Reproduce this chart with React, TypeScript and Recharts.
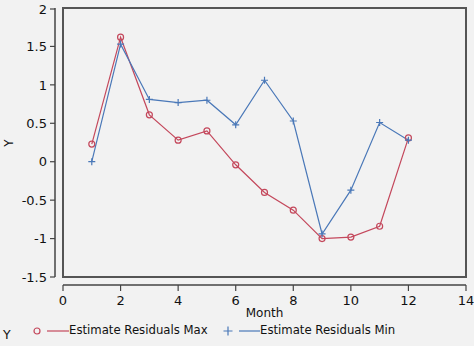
import { LineChart, Line, XAxis, YAxis, ReferenceArea, ReferenceLine } from 'recharts';

const months = [1, 2, 3, 4, 5, 6, 7, 8, 9, 10, 11, 12];
const residualsMax = [0.23, 1.62, 0.61, 0.28, 0.4, -0.04, -0.4, -0.63, -1.0, -0.98, -0.84, 0.31];
const residualsMin = [0.0, 1.53, 0.81, 0.77, 0.8, 0.48, 1.06, 0.53, -0.94, -0.37, 0.51, 0.28];
const xTicks = [0, 2, 4, 6, 8, 10, 12, 14];
const yTicks = [-1.5, -1, -0.5, 0, 0.5, 1, 1.5, 2];

const RED = '#c4485c';
const BLUE = '#4a78b8';
const BG = '#f2f2f2';
const AXIS = '#444';
const FONT = '"DejaVu Sans", sans-serif';
const GAP = 8; // axes sit detached from the frame

const data = months.map((m, i) => ({ month: m, max: residualsMax[i], min: residualsMin[i] }));

const CircleDot = (props: any) => {
  const { cx, cy } = props;
  if (cx == null || cy == null) return null;
  return <circle cx={cx} cy={cy} r={3} fill="none" stroke={RED} strokeWidth={1.2} />;
};

const PlusDot = (props: any) => {
  const { cx, cy } = props;
  if (cx == null || cy == null) return null;
  return (
    <path d={`M${cx - 3.5},${cy}H${cx + 3.5}M${cx},${cy - 3.5}V${cy + 3.5}`} stroke={BLUE} strokeWidth={1.2} />
  );
};

const XTick = (props: any) => {
  const { x, y, payload } = props;
  return (
    <g>
      <line x1={x} x2={x} y1={y + GAP} y2={y + GAP + 6} stroke={AXIS} strokeWidth={1.2} />
      <text x={x} y={y + GAP + 20} textAnchor="middle" fontSize={13} fill="#111" fontFamily={FONT}>
        {payload.value}
      </text>
    </g>
  );
};

const YTick = (props: any) => {
  const { x, y, payload } = props;
  return (
    <g>
      <line x1={x - GAP - 5} x2={x - GAP} y1={y} y2={y} stroke={AXIS} strokeWidth={1.2} />
      <text x={x - GAP - 8} y={y} dy="0.36em" textAnchor="end" fontSize={13} fill="#111" fontFamily={FONT}>
        {payload.value}
      </text>
    </g>
  );
};

export default function App() {
  return (
    <div style={{ position: 'absolute', left: 0, top: 0, width: 474, height: 346, background: BG, fontFamily: FONT }}>
      <LineChart width={474} height={346} data={data} margin={{ top: 8, right: 8, bottom: 29, left: 0 }}>
        <XAxis
          dataKey="month"
          type="number"
          domain={[0, 14]}
          ticks={xTicks}
          height={40}
          tickSize={0}
          tickMargin={0}
          axisLine={false}
          tickLine={false}
          tick={<XTick />}
          label={{ value: 'Month', position: 'insideBottom', offset: 0, fill: '#111', fontSize: 12, fontFamily: FONT }}
        />
        <YAxis
          type="number"
          domain={[-1.5, 2]}
          ticks={yTicks}
          width={63}
          tickSize={0}
          tickMargin={0}
          axisLine={false}
          tickLine={false}
          tick={<YTick />}
          label={{
            content: () => (
              <text x={13} y={143} transform="rotate(-90 13 143)" textAnchor="middle" fontSize={12} fill="#111" fontFamily={FONT}>
                Y
              </text>
            ),
          }}
        />
        <ReferenceArea x1={0} x2={14} y1={-1.5} y2={2} fill={BG} fillOpacity={1} stroke="#555" strokeWidth={2} ifOverflow="visible" />
        <ReferenceLine
          y={-1.5}
          ifOverflow="visible"
          shape={(p: any) => <line x1={p.x1} x2={p.x2} y1={p.y1 + GAP} y2={p.y2 + GAP} stroke={AXIS} strokeWidth={1.5} />}
        />
        <ReferenceLine
          x={0}
          ifOverflow="visible"
          shape={(p: any) => <line x1={p.x1 - GAP} x2={p.x2 - GAP} y1={p.y1} y2={p.y2} stroke={AXIS} strokeWidth={1.5} />}
        />
        <Line dataKey="max" stroke={RED} strokeWidth={1.2} dot={<CircleDot />} activeDot={false} isAnimationActive={false} />
        <Line dataKey="min" stroke={BLUE} strokeWidth={1.2} dot={<PlusDot />} activeDot={false} isAnimationActive={false} />
      </LineChart>
      <div style={{ position: 'absolute', left: 0, top: 322, width: 474, height: 20, fontSize: 11.7, color: '#111' }}>
        <span style={{ position: 'absolute', left: 3, top: 5, fontSize: 12.5 }}>Y</span>
        <svg style={{ position: 'absolute', left: 30, top: 1 }} width={40} height={16}>
          <circle cx={7} cy={8} r={3} fill="none" stroke={RED} strokeWidth={1.2} />
          <line x1={17} x2={39} y1={8} y2={8} stroke={RED} strokeWidth={1.2} />
        </svg>
        <span style={{ position: 'absolute', left: 69, top: 1 }}>Estimate Residuals Max</span>
        <svg style={{ position: 'absolute', left: 222, top: 1 }} width={40} height={16}>
          <path d="M6,3.5V12.5M1.5,8H10.5" stroke={BLUE} strokeWidth={1.2} />
          <line x1={17} x2={38} y1={8} y2={8} stroke={BLUE} strokeWidth={1.2} />
        </svg>
        <span style={{ position: 'absolute', left: 260, top: 1 }}>Estimate Residuals Min</span>
      </div>
    </div>
  );
}
